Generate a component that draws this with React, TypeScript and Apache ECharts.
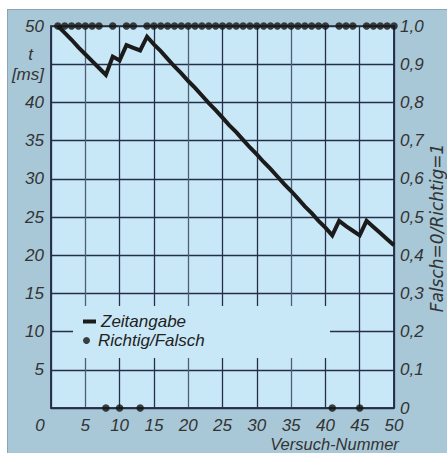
import React, { useEffect, useRef } from 'react';
import * as echarts from 'echarts';

const trials = [1, 2, 3, 4, 5, 6, 7, 8, 9, 10, 11, 12, 13, 14, 15, 16, 17, 18, 19, 20, 21, 22, 23, 24, 25, 26, 27, 28, 29, 30, 31, 32, 33, 34, 35, 36, 37, 38, 39, 40, 41, 42, 43, 44, 45, 46, 47, 48, 49, 50];
const zeitangabe = [50, 49.1, 48.2, 47.2, 46.3, 45.4, 44.5, 43.6, 46.0, 45.5, 47.5, 47.15, 46.8, 48.6, 47.6, 46.7, 45.7, 44.7, 43.8, 42.8, 41.9, 40.9, 39.9, 39.0, 38.0, 37.0, 36.1, 35.1, 34.1, 33.2, 32.2, 31.3, 30.3, 29.3, 28.4, 27.4, 26.4, 25.5, 24.5, 23.6, 22.6, 24.5, 23.8, 23.2, 22.6, 24.5, 23.7, 22.9, 22.1, 21.3];
const richtigFalsch = [1, 1, 1, 1, 1, 1, 1, 0, 1, 0, 1, 1, 0, 1, 1, 1, 1, 1, 1, 1, 1, 1, 1, 1, 1, 1, 1, 1, 1, 1, 1, 1, 1, 1, 1, 1, 1, 1, 1, 1, 0, 1, 1, 1, 0, 1, 1, 1, 1, 1];

const xMin = 0, xMax = 50, xStep = 5;
const tMin = 0, tMax = 50, tStep = 5;
const rMin = 0, rMax = 1, rStep = 0.1;

export default function App() {
  const ref = useRef<HTMLDivElement>(null);
  useEffect(() => {
    const chart = echarts.init(ref.current!, null, { renderer: 'svg' });
    const font = "'Liberation Sans', Arial, sans-serif";
    const plotBg = '#c9e8f7';
    const gridColor = '#252f48';
    const lightGrid = '#4d5d74';
    const lbl = { fontFamily: font, fontStyle: 'italic', fontSize: 17, color: '#333' };
    chart.setOption({
      animation: false,
      grid: {
        left: 51, top: 26, right: 53, bottom: 45,
        containLabel: false,
        outerBoundsMode: 'none',
        show: true, backgroundColor: plotBg, borderColor: gridColor, borderWidth: 1.5,
      },
      xAxis: {
        type: 'value', min: xMin, max: xMax, interval: xStep,
        axisLine: { show: true, lineStyle: { color: gridColor, width: 1.5 } },
        axisTick: { show: false },
        splitLine: {
          show: true,
          lineStyle: {
            color: [gridColor, lightGrid, gridColor, gridColor, lightGrid, gridColor, gridColor, lightGrid, gridColor, gridColor, gridColor],
            width: 1.3,
          },
        },
        axisLabel: {
          ...lbl, margin: 9, lineHeight: 17,
          formatter: (v: number) => (v === 0 ? '{z|0}' : String(v)),
          rich: { z: { ...lbl, lineHeight: 17, padding: [0, 22, 0, 0] } },
        },
        name: 'Versuch-Nummer',
        nameLocation: 'middle',
        nameGap: 28,
        nameMoveOverlap: false,
        nameTextStyle: { ...lbl, fontSize: 16.5, lineHeight: 16, padding: [0, 0, 0, 224] },
      },
      yAxis: [
        {
          type: 'value', min: tMin, max: tMax, interval: tStep,
          axisLine: { show: true, lineStyle: { color: gridColor, width: 1.5 } },
          axisTick: { show: false },
          splitLine: { show: true, lineStyle: { color: gridColor, width: 1.3 } },
          axisLabel: {
            ...lbl, margin: 7,
            formatter: (v: number) => (v === 0 ? '' : v === 45 ? '{t|t}\n{ms|[ms]}' : String(v)),
            rich: {
              t: { ...lbl, lineHeight: 20, padding: [0, 11, 0, 0] },
              ms: { ...lbl, lineHeight: 20 },
            },
          },
        },
        {
          type: 'value', min: rMin, max: rMax, interval: rStep, position: 'right',
          axisLine: { show: true, lineStyle: { color: gridColor, width: 1.5 } },
          axisTick: { show: false },
          splitLine: { show: false },
          axisLabel: {
            ...lbl, margin: 6,
            formatter: (v: number) => (v === 0 ? '0' : v.toFixed(1).replace('.', ',')),
          },
          name: 'Falsch=0/Richtig=1',
          nameLocation: 'middle',
          nameRotate: 90,
          nameGap: 34,
          nameMoveOverlap: false,
          nameTextStyle: { ...lbl, fontFamily: "'DejaVu Sans', sans-serif", fontSize: 17, padding: [0, 22, 0, 0] },
        },
      ],
      legend: [
        {
          data: [{ name: 'Zeitangabe', icon: 'rect' }],
          left: 83, top: 313, padding: 0, itemWidth: 13, itemHeight: 4,
          textStyle: { ...lbl, color: '#222' },
        },
        {
          data: [{ name: 'Richtig/Falsch', icon: 'circle' }],
          left: 83, top: 332, padding: 0, itemWidth: 13, itemHeight: 7,
          textStyle: { ...lbl, color: '#222' },
        },
      ],
      graphic: [
        { type: 'rect', shape: { x: 73, y: 306, width: 257, height: 52 }, style: { fill: plotBg }, z: 1 },
      ],
      series: [
        {
          name: 'Zeitangabe', type: 'line',
          data: trials.map((x, i) => [x, zeitangabe[i]]),
          showSymbol: false,
          lineStyle: { color: '#1b1b1b', width: 4, join: 'miter' },
          itemStyle: { color: '#1b1b1b' },
          z: 3,
        },
        {
          name: 'Richtig/Falsch', type: 'scatter', yAxisIndex: 1,
          data: trials.map((x, i) => [x, richtigFalsch[i]]),
          symbolSize: 7.5, clip: false,
          itemStyle: { color: '#141414' },
          z: 4,
        },
      ],
    });
    return () => chart.dispose();
  }, []);
  return (
    <div style={{ position: 'fixed', left: 0, top: 0, width: 447, height: 453, background: '#fff' }}>
      <div style={{ position: 'absolute', left: 7, top: 9, width: 440, height: 444, background: '#a8c7d7', borderLeft: '1px solid #8aa5b4', borderTop: '1px solid #8aa5b4', boxSizing: 'border-box' }} />
      <div ref={ref} style={{ position: 'absolute', left: 0, top: 0, width: 447, height: 453 }} />
    </div>
  );
}
